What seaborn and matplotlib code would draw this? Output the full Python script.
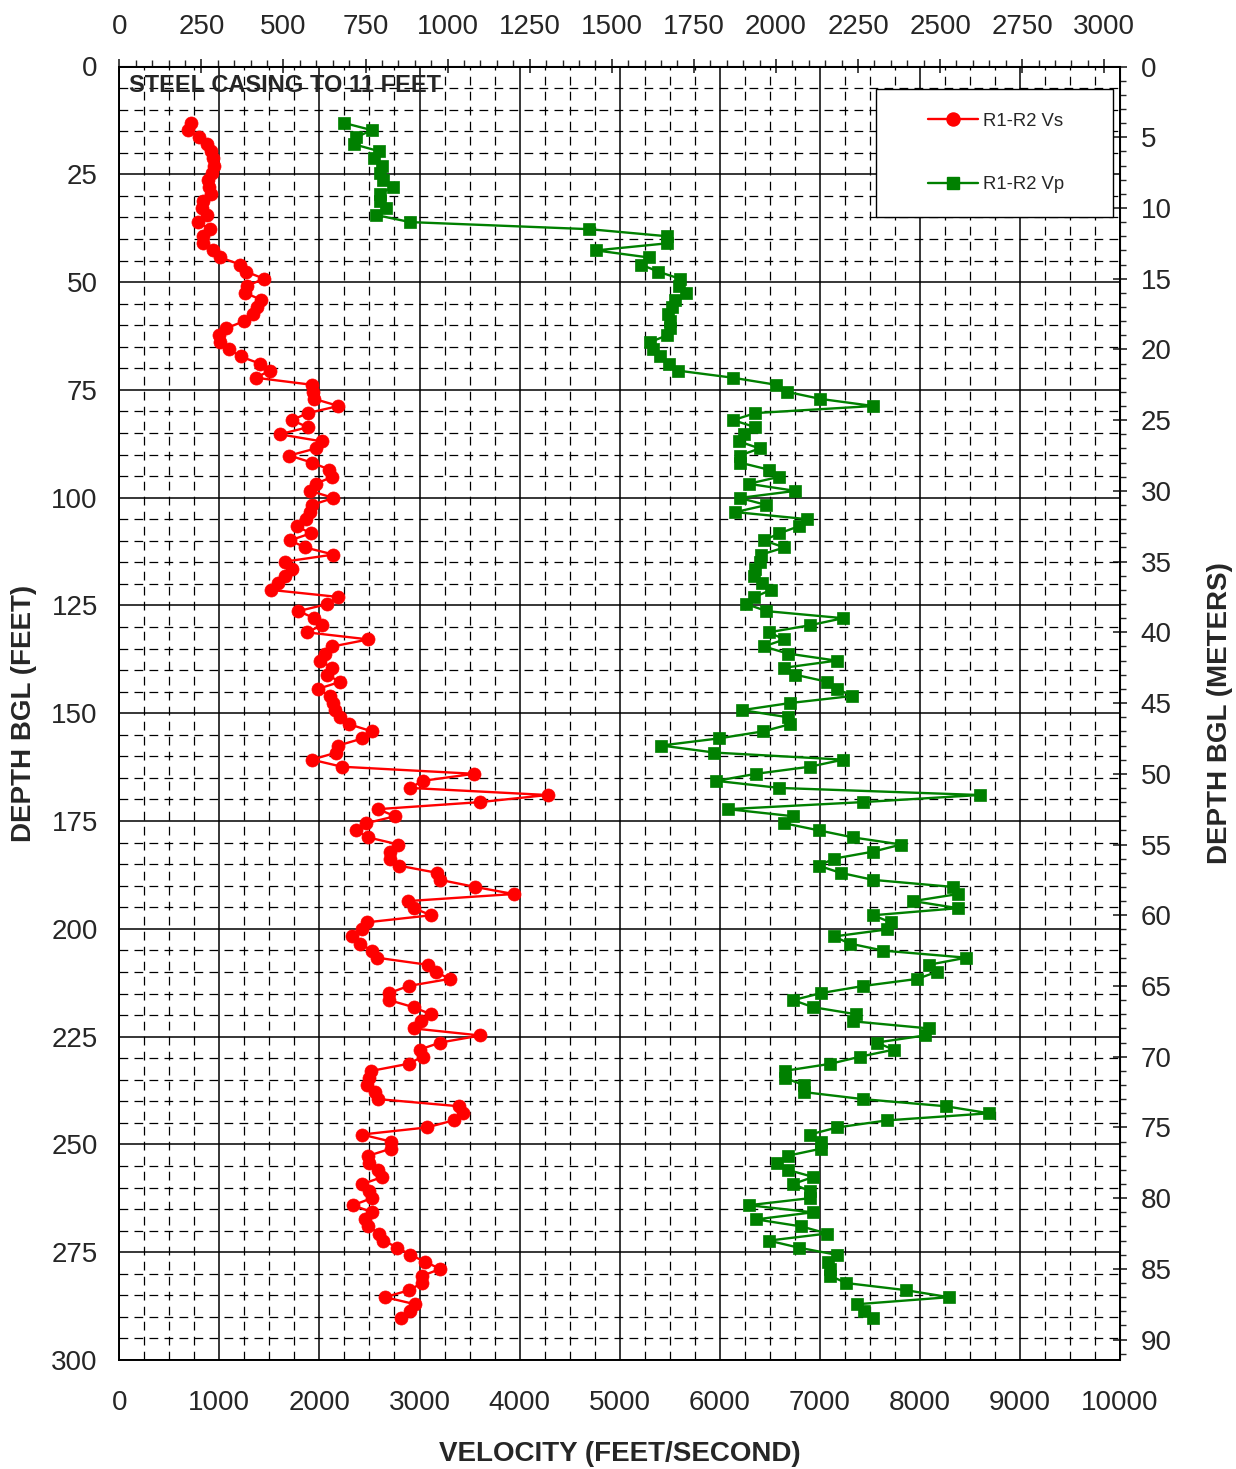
import numpy as np
import pandas as pd
import matplotlib
matplotlib.use("Agg")
import matplotlib.pyplot as plt
import seaborn as sns
from matplotlib.ticker import MultipleLocator
from matplotlib.lines import Line2D
from matplotlib.patches import Rectangle

FT_PER_M = 3.28084

# Receiver-pair sampling depth in metres (0.5 m interval), converted to feet
depth_m = np.arange(4.0, 88.51, 0.5)
depth_ft = depth_m * FT_PER_M

# R1-R2 shear-wave velocity, ft/s
vs = [717, 690, 800, 880, 915, 935, 945, 930, 885, 895,
      920, 840, 823, 877, 790, 903, 840, 840, 940, 1010,
      1207, 1265, 1445, 1280, 1257, 1420, 1377, 1340, 1248, 1070,
      998, 1003, 1097, 1212, 1403, 1507, 1362, 1924, 1940, 1950,
      2190, 1884, 1724, 1884, 1603, 2024, 1964, 1700, 1924, 2100,
      2130, 1964, 1907, 2140, 1924, 1907, 1867, 1774, 1914, 1707,
      1857, 2140, 1657, 1724, 1657, 1590, 1514, 2190, 2080, 1790,
      1950, 2024, 1874, 2490, 2130, 2057, 2007, 2124, 2074, 2207,
      1984, 2107, 2140, 2157, 2207, 2297, 2524, 2430, 2190, 2170,
      1924, 2224, 3547, 3030, 2907, 4280, 3607, 2584, 2757, 2464,
      2364, 2490, 2790, 2707, 2707, 2800, 3174, 3207, 3557, 3940,
      2880, 2940, 3117, 2474, 2424, 2330, 2407, 2524, 2574, 3080,
      3164, 3300, 2890, 2697, 2697, 2940, 3114, 3014, 2940, 3607,
      3207, 3000, 3030, 2890, 2520, 2500, 2474, 2557, 2590, 3390,
      3434, 3340, 3074, 2424, 2714, 2714, 2490, 2500, 2584, 2630,
      2430, 2500, 2524, 2334, 2530, 2457, 2490, 2600, 2640, 2780,
      2907, 3057, 3207, 3024, 3024, 2897, 2657, 2957, 2907, 2817]

# R1-R2 compressional-wave velocity, ft/s
vp = [2250, 2524, 2367, 2347, 2600, 2547, 2624, 2607, 2640, 2734,
      2607, 2607, 2667, 2567, 2907, 4697, 5474, 5474, 4764, 5290,
      5214, 5384, 5600, 5590, 5664, 5557, 5524, 5480, 5507, 5507,
      5474, 5300, 5334, 5407, 5495, 5585, 6130, 6564, 6674, 7007,
      7534, 6357, 6134, 6357, 6240, 6190, 6400, 6200, 6200, 6490,
      6597, 6290, 6757, 6200, 6467, 6157, 6874, 6790, 6597, 6440,
      6647, 6417, 6400, 6357, 6340, 6424, 6514, 6347, 6267, 6467,
      7234, 6900, 6490, 6647, 6440, 6680, 7167, 6647, 6757, 7077,
      7174, 7324, 6700, 6224, 6680, 6700, 6434, 5990, 5417, 5947,
      7234, 6900, 6364, 5967, 6597, 8597, 7434, 6084, 6734, 6647,
      6990, 7334, 7814, 7534, 7140, 6990, 7207, 7534, 8334, 8380,
      7934, 8380, 7534, 7707, 7674, 7140, 7300, 7634, 8464, 8090,
      8170, 7974, 7434, 7014, 6734, 6934, 7364, 7334, 8090, 8047,
      7567, 7740, 7400, 7107, 6650, 6650, 6840, 6840, 7434, 8257,
      8690, 7674, 7174, 6900, 7014, 7014, 6680, 6574, 6680, 6934,
      6734, 6900, 6900, 6290, 6930, 6364, 6817, 7074, 6490, 6790,
      7167, 7084, 7107, 7107, 7264, 7857, 8290, 7367, 7440, 7534]

series_labels = ["R1-R2 Vs", "R1-R2 Vp"]
series_colors = ["#ff0000", "#008000"]
series_markers = ["o", "s"]

df = pd.DataFrame({"depth_ft": depth_ft, "vs": vs, "vp": vp})

sns.set_style("white")
plt.rcParams["font.family"] = ["Liberation Sans", "DejaVu Sans"]

W, H = 1236, 1469
fig = plt.figure(figsize=(W / 100, H / 100), dpi=100)
x0, x1, y0, y1 = 119.3, 1120.0, 66.5, 1360.0
ax = fig.add_axes([x0 / W, 1 - y1 / H, (x1 - x0) / W, (y1 - y0) / H])

marker_sizes = [9.4, 8.4]
for col, c, m, ms in zip(["vs", "vp"], series_colors, series_markers,
                         marker_sizes):
    sns.lineplot(data=df, x=col, y="depth_ft", ax=ax, sort=False,
                 estimator=None, orient="y", color=c, marker=m,
                 markersize=ms, markeredgecolor=c, markeredgewidth=0.5,
                 linewidth=1.7, zorder=3, legend=False)

ax.set_xlim(0, 10000)
ax.set_ylim(300, 0)
ax.xaxis.set_major_locator(MultipleLocator(1000))
ax.xaxis.set_minor_locator(MultipleLocator(250))
ax.yaxis.set_major_locator(MultipleLocator(25))
ax.yaxis.set_minor_locator(MultipleLocator(5))
ax.grid(which="major", color="black", linewidth=1.1, linestyle="-")
ax.grid(which="minor", color="black", linewidth=0.9, linestyle=(0, (7, 5)))
ax.set_axisbelow(True)
for s in ax.spines.values():
    s.set_color("black")
    s.set_linewidth(1.4)

tick_fs = 20
ax.tick_params(axis="both", which="major", direction="out", length=6.5,
               width=1.2, color="black", labelsize=tick_fs)
ax.tick_params(axis="both", which="minor", direction="out", length=4.5,
               width=1.0, color="black")
ax.tick_params(axis="x", which="major", pad=15)
ax.tick_params(axis="y", which="major", pad=9)

ax.set_xlabel("VELOCITY (FEET/SECOND)", fontsize=20, fontweight="bold",
              labelpad=18)
ax.set_ylabel("DEPTH BGL (FEET)", fontsize=20, fontweight="bold",
              labelpad=10)

# Metric companion axes
top = ax.secondary_xaxis("top", functions=(lambda v: v / FT_PER_M,
                                            lambda mm: mm * FT_PER_M))
top.xaxis.set_major_locator(MultipleLocator(250))
top.xaxis.set_minor_locator(MultipleLocator(50))
top.tick_params(which="major", direction="inout", length=10, width=1.2,
                labelsize=tick_fs, pad=14)
top.tick_params(which="minor", direction="out", length=4.5, width=1.0)

right = ax.secondary_yaxis("right", functions=(lambda f: f / FT_PER_M,
                                                lambda mm: mm * FT_PER_M))
right.yaxis.set_major_locator(MultipleLocator(5))
right.yaxis.set_minor_locator(MultipleLocator(1))
right.tick_params(which="major", direction="inout", length=10, width=1.2,
                  labelsize=tick_fs, pad=10)
right.tick_params(which="minor", direction="out", length=4.5, width=1.0)
right.set_ylabel("DEPTH BGL (METERS)", fontsize=20, fontweight="bold",
                 labelpad=25)

ax.text(97, 4.3, "STEEL CASING TO 11 FEET", fontsize=17, fontweight="bold",
        ha="left", va="center", zorder=4)

# Legend box
ax.add_patch(Rectangle((876 / W, 1 - 217 / H), 237 / W, 128 / H,
                       transform=fig.transFigure, facecolor="white",
                       edgecolor="black", linewidth=1.0, zorder=4.5,
                       clip_on=False))
handles = [Line2D([], [], color=c, marker=m, markersize=ms,
                  markeredgecolor=c, linewidth=1.7)
           for c, m, ms in zip(series_colors, series_markers, marker_sizes)]
leg = ax.legend(handles, series_labels, loc="center",
                bbox_to_anchor=(996 / W, 1 - 153 / H),
                bbox_transform=fig.transFigure, frameon=False,
                fontsize=13.3, handlelength=2.7, handletextpad=0.3,
                labelspacing=2.5)
leg.set_zorder(5)

fig.savefig("out.png", dpi=100)
